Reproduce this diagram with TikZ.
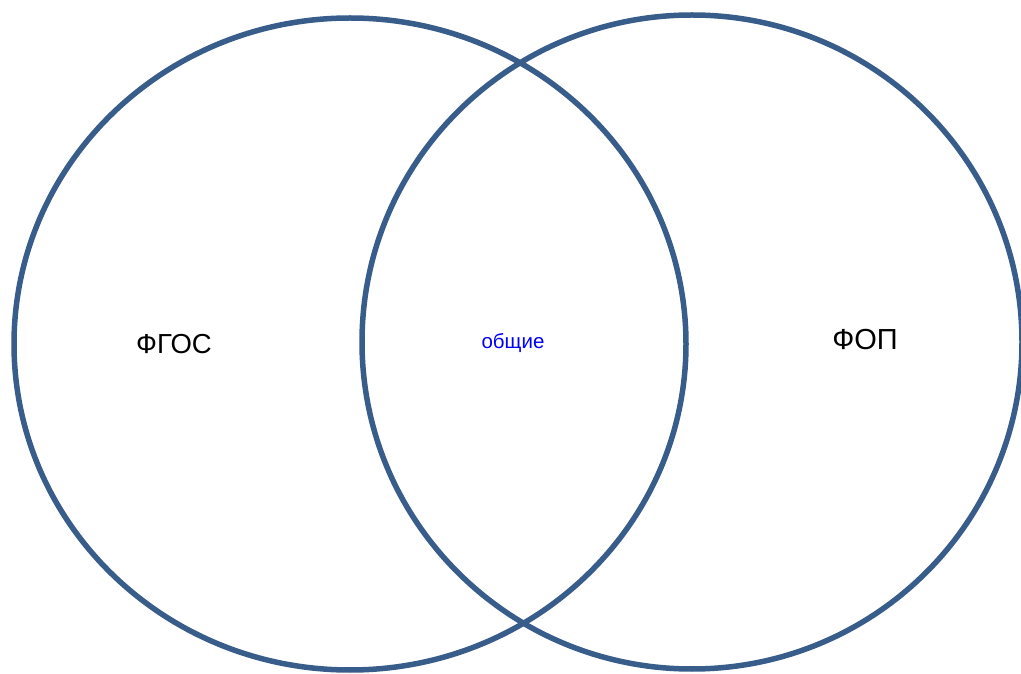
\documentclass[tikz,border=0pt]{standalone}
\usepackage{fontspec}
\setmainfont{Liberation Sans}
\usepackage{xcolor}
\usetikzlibrary{shapes.geometric}
\definecolor{ringblue}{HTML}{385D8A}

\begin{document}
\begin{tikzpicture}[x=1pt,y=1pt,
  ring/.style={draw=ringblue,line width=5.5pt,ellipse,inner sep=0pt}]
\useasboundingbox (0,0) rectangle (1021,673);
\node[ring,minimum width=672pt,minimum height=652pt] (fgos) at (350,329) {};
\node[ring,minimum width=660pt,minimum height=654pt] (fop) at (692,331) {};
\node[font=\fontsize{27.5}{32}\selectfont] (fgostext) at (174,329) {ФГОС};
\node[font=\fontsize{20.5}{24}\selectfont,text=blue] (common) at (513,330) {общие};
\node[font=\fontsize{29}{34}\selectfont] (foptext) at (865,333) {ФОП};
\end{tikzpicture}
\end{document}
